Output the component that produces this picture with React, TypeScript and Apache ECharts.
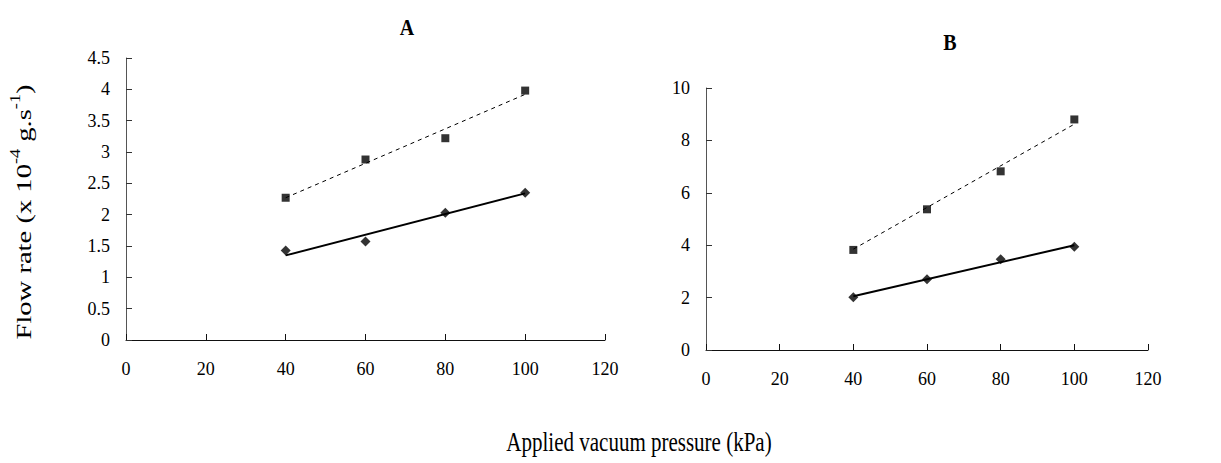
import React, { useEffect, useRef } from "react";
import * as echarts from "echarts";

const xTicks = [0, 20, 40, 60, 80, 100, 120];
const pressure = [40, 60, 80, 100];
const aSquares = [2.27, 2.88, 3.22, 3.98];
const aDiamonds = [1.43, 1.57, 2.03, 2.35];
const aSquareTrend = [2.27, 3.92];
const aDiamondTrend = [1.35, 2.34];
const bSquares = [3.82, 5.37, 6.82, 8.8];
const bDiamonds = [2.01, 2.7, 3.46, 3.94];
const bSquareTrend = [3.85, 8.62];
const bDiamondTrend = [2.05, 4.0];
const trendX = [40, 100];

const FONT = "Liberation Serif";

function pts(xs: number[], ys: number[]) {
  return xs.map((x, i) => [x, ys[i]]);
}

export default function App() {
  const ref = useRef<HTMLDivElement>(null);
  useEffect(() => {
    const chart = echarts.init(ref.current!, null, { renderer: "svg" });
    const xAxisBase = (gridIndex: number) => ({
      type: "value",
      gridIndex,
      min: xTicks[0],
      max: xTicks[xTicks.length - 1],
      interval: xTicks[1] - xTicks[0],
      axisLine: { show: true, lineStyle: { color: "#111", width: 1 } },
      axisTick: { show: true, inside: true, length: 6, lineStyle: { color: "#111" } },
      axisLabel: { color: "#000", fontFamily: FONT, fontSize: 18, margin: 20 },
      splitLine: { show: false },
    });
    const yAxisBase = (gridIndex: number, max: number, interval: number) => ({
      type: "value",
      gridIndex,
      min: 0,
      max,
      interval,
      axisLine: { show: true, lineStyle: { color: "#555", width: 1 } },
      axisTick: { show: true, inside: true, length: 6, lineStyle: { color: "#333" } },
      axisLabel: { color: "#000", fontFamily: FONT, fontSize: 18, margin: 16 },
      splitLine: { show: false },
    });
    const scatter = (xi: number, data: number[], symbol: string, size: number) => ({
      type: "scatter",
      xAxisIndex: xi,
      yAxisIndex: xi,
      data: pts(pressure, data),
      symbol,
      symbolSize: size,
      itemStyle: { color: "#000" },
      z: 3,
    });
    const trend = (xi: number, data: number[], dashed: boolean) => ({
      type: "line",
      xAxisIndex: xi,
      yAxisIndex: xi,
      data: pts(trendX, data),
      symbol: "none",
      lineStyle: dashed
        ? { color: "#000", width: 1, type: [4, 4] }
        : { color: "#000", width: 2, type: "solid" },
      z: 2,
    });
    chart.setOption({
      animation: false,
      backgroundColor: "#fff",
      grid: [
        { left: 126, top: 58, width: 479, height: 282 },
        { left: 706, top: 88, width: 442, height: 262 },
      ],
      xAxis: [xAxisBase(0), xAxisBase(1)],
      yAxis: [yAxisBase(0, 4.5, 0.5), yAxisBase(1, 10, 2)],
      series: [
        trend(0, aSquareTrend, true),
        trend(0, aDiamondTrend, false),
        scatter(0, aSquares, "rect", 8),
        scatter(0, aDiamonds, "diamond", 10),
        trend(1, bSquareTrend, true),
        trend(1, bDiamondTrend, false),
        scatter(1, bSquares, "rect", 8),
        scatter(1, bDiamonds, "diamond", 10),
      ],
      graphic: [
        {
          type: "text",
          x: 407,
          y: 27,
          scaleY: 1.2,
          style: {
            text: "A",
            fontFamily: FONT,
            fontSize: 20,
            fontWeight: "bold",
            fill: "#000",
            align: "center",
            verticalAlign: "middle",
          },
        },
        {
          type: "text",
          x: 950,
          y: 42,
          scaleY: 1.2,
          style: {
            text: "B",
            fontFamily: FONT,
            fontSize: 20,
            fontWeight: "bold",
            fill: "#000",
            align: "center",
            verticalAlign: "middle",
          },
        },
        {
          type: "text",
          x: 22,
          y: 212,
          rotation: Math.PI / 2,
          scaleX: 1.3,
          style: {
            text: "{n|Flow rate (x 10}{s|-4}{n| g.s}{s|-1}{n|)}",
            fill: "#000",
            align: "center",
            verticalAlign: "middle",
            rich: {
              n: { fontFamily: FONT, fontSize: 22, fill: "#000", lineHeight: 26, verticalAlign: "bottom" },
              s: { fontFamily: FONT, fontSize: 14, fill: "#000", lineHeight: 26, verticalAlign: "top" },
            },
          },
        },
        {
          type: "text",
          x: 639,
          y: 442,
          scaleY: 1.25,
          style: {
            text: "Applied vacuum pressure (kPa)",
            fontFamily: FONT,
            fontSize: 21,
            fill: "#000",
            align: "center",
            verticalAlign: "middle",
          },
        },
      ],
    });
    return () => chart.dispose();
  }, []);
  return (
    <div
      ref={ref}
      style={{ position: "fixed", left: 0, top: 0, width: 1221, height: 463, background: "#fff" }}
    />
  );
}
